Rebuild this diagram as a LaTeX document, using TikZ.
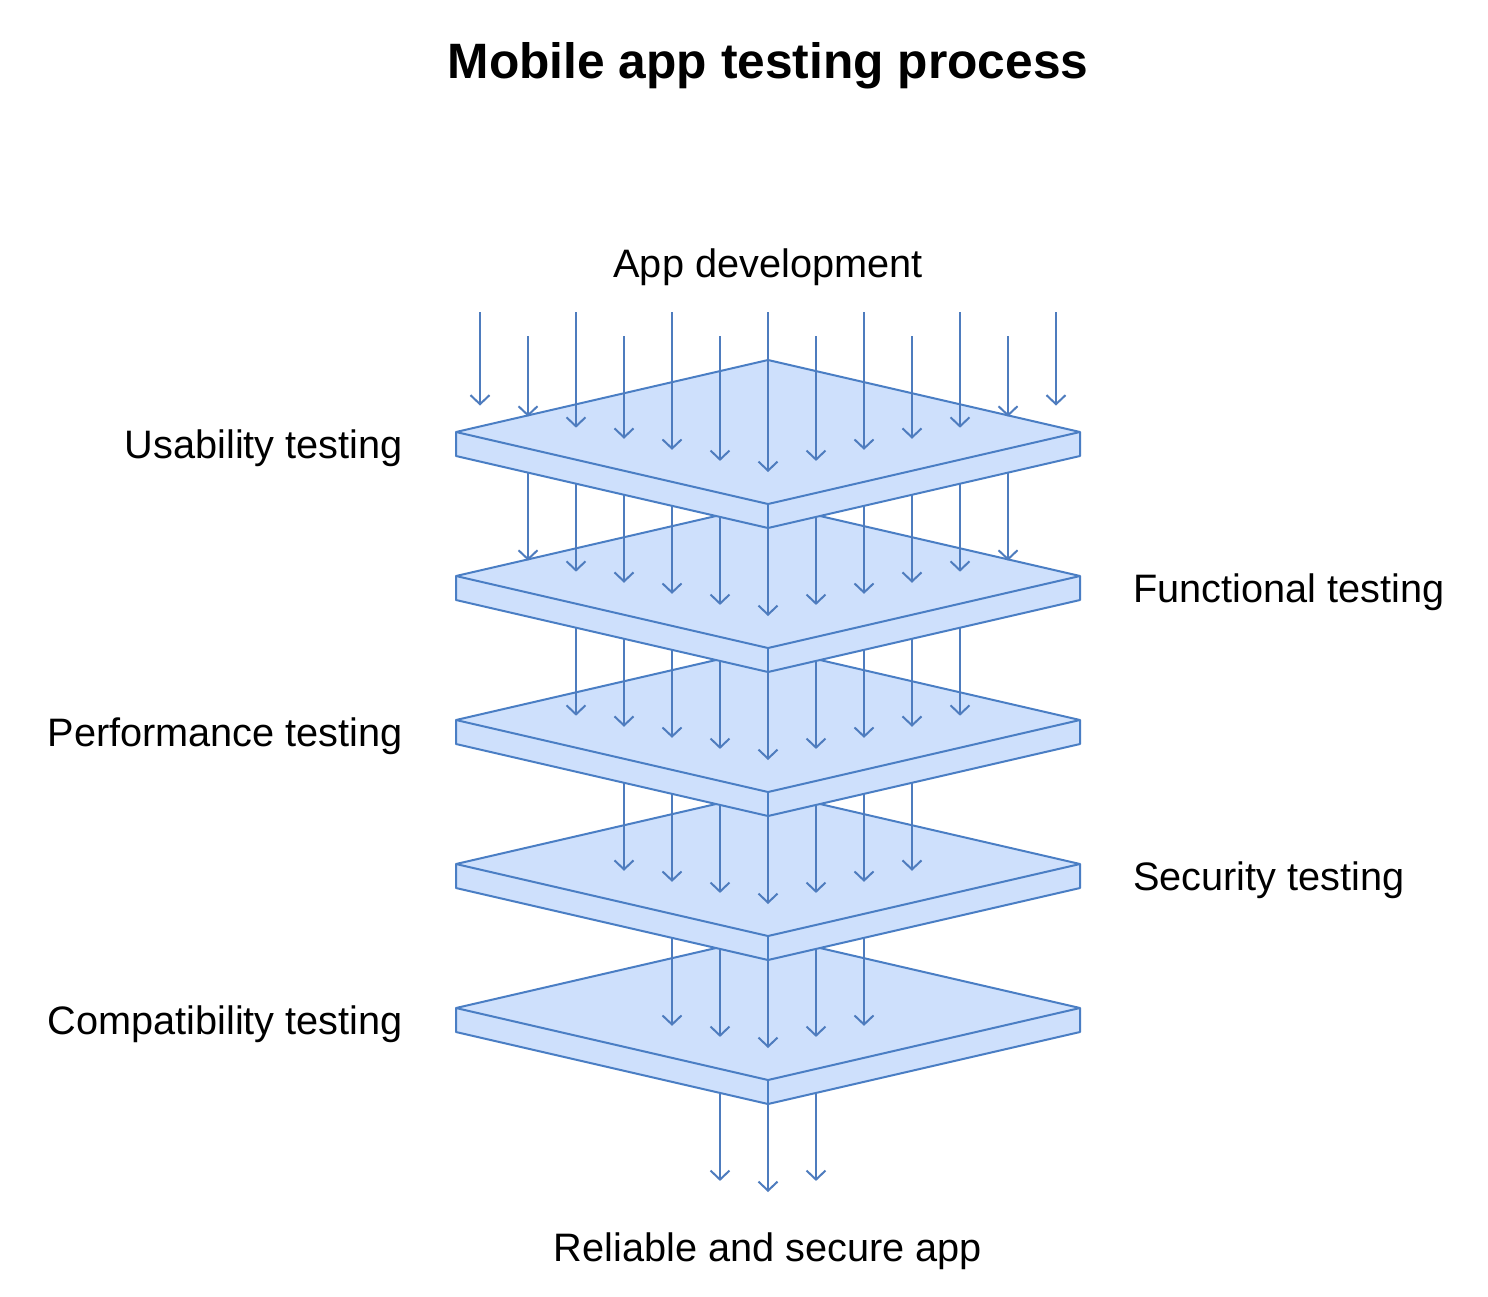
\documentclass[tikz,border=0pt]{standalone}
\usepackage{fontspec}
\setmainfont{Liberation Sans}
\usetikzlibrary{arrows.meta}
\definecolor{platefill}{RGB}{206,224,252}
\definecolor{platedraw}{RGB}{74,126,196}
\definecolor{arrowcol}{RGB}{78,124,190}
\newcommand\drawplate[1]{%
  \pgfmathsetmacro\plof{144*(#1-1)}%
  \coordinate (pl#1) at (456,432+\plof);
  \coordinate (pt#1) at (768,360+\plof);
  \coordinate (pr#1) at (1080,432+\plof);
  \coordinate (pf#1) at (768,504+\plof);
  \coordinate (plb#1) at (456,456+\plof);
  \coordinate (pfb#1) at (768,528+\plof);
  \coordinate (prb#1) at (1080,456+\plof);
  \draw[plate] (pl#1) -- (pt#1) -- (pr#1) -- (prb#1) -- (pfb#1) -- (plb#1) -- cycle;
  \draw[plate,fill=none] (pl#1) -- (pf#1) -- (pr#1);
  \draw[plate,fill=none] (pf#1) -- (pfb#1);
}
\begin{document}
\begin{tikzpicture}[x=1pt,y=-1pt,
  plate/.style={fill=platefill,draw=platedraw,line width=2pt,line join=round},
  flow/.style={draw=arrowcol,line width=2pt,-{Straight Barb[length=9pt,width=19pt]}},
  lbl/.style={font=\fontsize{39.7}{48}\selectfont,inner sep=0pt}]
\useasboundingbox (0,0) rectangle (1488,1296);
\fill[white] (0,0) rectangle (1488,1296);
% layers of arrows and plates, drawn from the bottom up
\foreach \k in {6,5,4,3,2,1} {
  \pgfmathtruncatemacro\nmax{7-\k}
  \foreach \i in {-\nmax,...,\nmax} {
    \pgfmathsetmacro\axx{768+48*\i}
    \pgfmathsetmacro\add{abs(\i)*11.076923}
    \pgfmathsetmacro\atip{472-\add+144*(\k-1)}
    \ifnum\k=1
      \pgfmathtruncatemacro\apty{mod(abs(\i),2)}
      \ifnum\apty=0 \def\ays{312}\else \def\ays{336}\fi
    \else
      \pgfmathsetmacro\ays{528-\add+144*(\k-2)}
    \fi
    \coordinate (s\k\i) at (\axx,\ays);
    \coordinate (t\k\i) at (\axx,\atip);
    \draw[flow] (s\k\i) -- (t\k\i);
  }
  \ifnum\k>1
    \pgfmathtruncatemacro\pk{\k-1}
    \drawplate{\pk}
  \fi
}
% labels
\node[font=\bfseries\fontsize{49.7}{60}\selectfont,anchor=base,inner sep=0pt] (title) at (768,78) {Mobile app testing process};
\node[lbl,anchor=base] (dev) at (768,277) {App development};
\node[lbl,anchor=base east] (usab) at (403,458) {Usability testing};
\node[lbl,anchor=base west] (func) at (1133,602) {Functional testing};
\node[lbl,anchor=base east] (perf) at (403,746) {Performance testing};
\node[lbl,anchor=base west] (sec) at (1133,890) {Security testing};
\node[lbl,anchor=base east] (compat) at (403,1034) {Compatibility testing};
\node[lbl,anchor=base] (rel) at (768,1261) {Reliable and secure app};
\end{tikzpicture}
\end{document}
